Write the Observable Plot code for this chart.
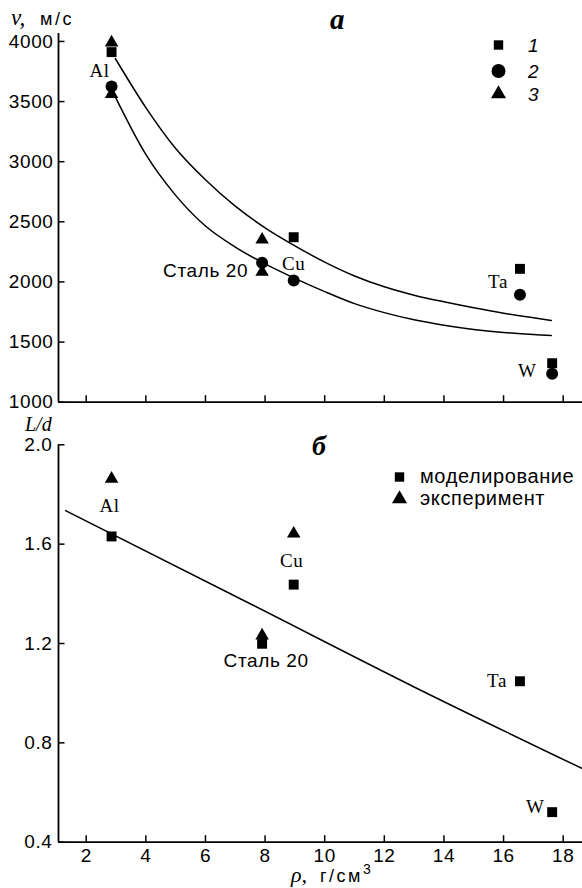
<!DOCTYPE html>
<html><head><meta charset="utf-8">
<script src="https://cdn.jsdelivr.net/npm/d3@7"></script>
<script src="https://cdn.jsdelivr.net/npm/@observablehq/plot@0.6"></script>
<style>
html,body{margin:0;padding:0;background:#fff;overflow:hidden;}
#wrap{position:relative;width:582px;height:888px;overflow:hidden;background:#fff;}
#wrap > svg, #wrap > figure{position:absolute;left:0;margin:0;}
</style></head><body><div id="wrap"></div>
<script>
// ---------- data ----------
const materials = ["Al", "Сталь 20", "Cu", "Ta", "W"];
const density = [2.85, 7.9, 8.96, 16.55, 17.63];

// panel а: velocity v, m/s
const velSeries1 = [3911, null, 2372, 2109, 1324];     // 1 (square)
const velSeries2 = [3626, 2160, 2012, 1893, 1236];     // 2 (circle)
const velSeries3a = [3990, 2351, null, null, null];    // 3 (triangle, upper)
const velSeries3b = [3562, 2083, null, null, null];    // 3 (triangle, lower)
const fitUpperRho = [2.98, 4, 5, 6, 7, 8, 9, 10, 11, 12, 13, 14, 15, 16, 17, 17.6];
const fitUpperV   = [3856, 3450, 3110, 2850, 2630, 2450, 2300, 2165, 2050, 1960, 1890, 1835, 1785, 1740, 1702, 1680];
const fitLowerRho = [2.98, 4, 5, 6, 7, 8, 9, 10, 11, 12, 13, 14, 15, 16, 17, 17.6];
const fitLowerV   = [3537, 3060, 2720, 2465, 2290, 2150, 2030, 1920, 1820, 1745, 1685, 1640, 1605, 1580, 1562, 1555];

// panel б: L/d
const ldModel = [1.631, 1.199, 1.437, 1.048, 0.521];        // моделирование
const ldExperiment = [1.863, 1.232, 1.642, null, null];     // эксперимент
const ldFitRho = [1.31, 7.5, 13.0, 18.65];
const ldFitY   = [1.735, 1.36, 1.025, 0.696];

// ticks
const velTicks = [1000, 1500, 2000, 2500, 3000, 3500, 4000];
const ldTicks = [0.4, 0.8, 1.2, 1.6, 2.0];
const rhoTicks = [2, 4, 6, 8, 10, 12, 14, 16, 18];

// ---------- helpers ----------
const rows = (vals) => materials.map((m, i) => ({m, rho: density[i], v: vals[i]})).filter(d => d.v != null);
const pairs = (xs, ys) => xs.map((x, i) => ({rho: x, v: ys[i]}));

const W = 582, topH = 412, botH = 476;
const ML = 58;
const xDomain = [1.07, 18.648];
const pxPerRho = (W - ML) / (xDomain[1] - xDomain[0]);
const SANS = '"Liberation Sans", Arial, sans-serif';
const SERIF = '"Liberation Serif", "Times New Roman", serif';
const baseStyle = {fontFamily: SANS, fontSize: "19px", color: "#000", background: "transparent", overflow: "visible", letterSpacing: "0.6px"};
const AXW = 1.8, TICK = 6.5;

// ---------- top panel ----------
const vDomain = [1000, 4066];
const topMT = 33, topMB = 10.3;
const pxPerV = (topH - topMT - topMB) / (vDomain[1] - vDomain[0]);
const s1 = rows(velSeries1), s2 = rows(velSeries2), s3 = rows(velSeries3a).concat(rows(velSeries3b));
const labelStyleSerif = {fontFamily: SERIF, fontSize: 19, letterSpacing: "0.5px"};

const topPlot = Plot.plot({
  width: W, height: topH, marginLeft: ML, marginRight: 0, marginTop: topMT, marginBottom: topMB,
  style: baseStyle,
  x: {domain: xDomain, axis: null},
  y: {domain: vDomain, ticks: velTicks, tickSize: 0, tickPadding: 5, label: null, tickFormat: d => String(d)},
  marks: [
    Plot.line(pairs(fitUpperRho, fitUpperV), {x: "rho", y: "v", curve: "monotone-x", strokeWidth: 1.5, stroke: "#000"}),
    Plot.line(pairs(fitLowerRho, fitLowerV), {x: "rho", y: "v", curve: "monotone-x", strokeWidth: 1.5, stroke: "#000"}),
    Plot.ruleX([xDomain[0]], {strokeWidth: AXW, stroke: "#000"}),
    Plot.ruleY([vDomain[0]], {strokeWidth: AXW, stroke: "#000"}),
    Plot.ruleX(rhoTicks, {x: d => d, y1: vDomain[0], y2: vDomain[0] + TICK / pxPerV, strokeWidth: 1.5, stroke: "#000"}),
    Plot.ruleY(velTicks, {y: d => d, x1: xDomain[0], x2: xDomain[0] + TICK / pxPerRho, strokeWidth: 1.5, stroke: "#000"}),
    Plot.dot(s3, {x: "rho", y: "v", symbol: "triangle", r: 5, fill: "#000", stroke: null}),
    Plot.dot(s1, {x: "rho", y: "v", symbol: "square", r: 5.6, fill: "#000", stroke: null}),
    Plot.dot(s2, {x: "rho", y: "v", symbol: "circle", r: 6, fill: "#000", stroke: null}),
    // material labels, anchored to series-2 points
    Plot.text(s2.filter(d => d.m === "Al"), {x: "rho", y: "v", text: "m", dx: -12, dy: -16, ...labelStyleSerif}),
    Plot.text(s2.filter(d => d.m === "Cu"), {x: "rho", y: "v", text: "m", dx: 0, dy: -17, ...labelStyleSerif}),
    Plot.text(s2.filter(d => d.m === "Ta"), {x: "rho", y: "v", text: "m", dx: -22, dy: -13, ...labelStyleSerif}),
    Plot.text(s2.filter(d => d.m === "W"), {x: "rho", y: "v", text: "m", dx: -25, dy: -3, ...labelStyleSerif}),
    Plot.text(s2.filter(d => d.m === "Сталь 20"), {x: "rho", y: "v", text: "m", dx: -14, dy: 8, textAnchor: "end", fontFamily: SANS, fontSize: 19, letterSpacing: "1px"})
  ]
});

// ---------- bottom panel ----------
const ldDomain = [0.4, 2.0];
const botMT = 32.3, botMB = 46.3;
const pxPerLd = (botH - botMT - botMB) / (ldDomain[1] - ldDomain[0]);
const bm = rows(ldModel), be = rows(ldExperiment);

const botPlot = Plot.plot({
  width: W, height: botH, marginLeft: ML, marginRight: 0, marginTop: botMT, marginBottom: botMB,
  style: baseStyle,
  x: {domain: xDomain, ticks: rhoTicks, tickSize: 0, tickPadding: 6, label: null, tickFormat: d => String(d)},
  y: {domain: ldDomain, ticks: ldTicks, tickSize: 0, tickPadding: 6, label: null, tickFormat: d => d.toFixed(1)},
  marks: [
    Plot.line(pairs(ldFitRho, ldFitY), {x: "rho", y: "v", curve: "monotone-x", strokeWidth: 1.5, stroke: "#000"}),
    Plot.ruleX([xDomain[0]], {strokeWidth: AXW, stroke: "#000"}),
    Plot.ruleY([ldDomain[0]], {strokeWidth: AXW, stroke: "#000"}),
    Plot.ruleX(rhoTicks, {x: d => d, y1: ldDomain[0], y2: ldDomain[0] + TICK / pxPerLd, strokeWidth: 1.5, stroke: "#000"}),
    Plot.ruleY(ldTicks, {y: d => d, x1: xDomain[0], x2: xDomain[0] + TICK / pxPerRho, strokeWidth: 1.5, stroke: "#000"}),
    Plot.dot(be, {x: "rho", y: "v", symbol: "triangle", r: 5, fill: "#000", stroke: null}),
    Plot.dot(bm, {x: "rho", y: "v", symbol: "square", r: 5.6, fill: "#000", stroke: null}),
    Plot.text(bm.filter(d => d.m === "Al"), {x: "rho", y: "v", text: "m", dx: -2, dy: -31, ...labelStyleSerif}),
    Plot.text(bm.filter(d => d.m === "Cu"), {x: "rho", y: "v", text: "m", dx: -2, dy: -24, ...labelStyleSerif}),
    Plot.text(bm.filter(d => d.m === "Ta"), {x: "rho", y: "v", text: "m", dx: -23, dy: 0, ...labelStyleSerif}),
    Plot.text(bm.filter(d => d.m === "W"), {x: "rho", y: "v", text: "m", dx: -17, dy: -5, ...labelStyleSerif}),
    Plot.text(bm.filter(d => d.m === "Сталь 20"), {x: "rho", y: "v", text: "m", dx: 4, dy: 17, fontFamily: SANS, fontSize: 19, letterSpacing: "1px"})
  ]
});

const wrap = document.getElementById("wrap");
topPlot.style.top = "0px";
botPlot.style.top = topH + "px";
wrap.appendChild(topPlot);
wrap.appendChild(botPlot);

// ---------- annotation layer: axis titles, panel letters, legends ----------
const ov = d3.select(wrap).append("svg")
  .attr("width", W).attr("height", 888)
  .style("position", "absolute").style("left", "0px").style("top", "0px")
  .style("pointer-events", "none");

function txt(x, y, s, opts = {}) {
  const t = ov.append("text").attr("x", x).attr("y", y).text(s)
    .attr("font-family", opts.family || SANS)
    .attr("font-size", opts.size || 19)
    .attr("fill", "#000");
  if (opts.italic) t.attr("font-style", "italic");
  if (opts.bold) t.attr("font-weight", "bold");
  if (opts.ls) t.attr("letter-spacing", opts.ls);
  if (opts.anchor) t.attr("text-anchor", opts.anchor);
  return t;
}
function sym(type, cx, cy, r) {
  const s = {square: d3.symbolSquare, circle: d3.symbolCircle, triangle: d3.symbolTriangle}[type];
  ov.append("path").attr("transform", `translate(${cx},${cy})`)
    .attr("d", d3.symbol(s, Math.PI * r * r)()).attr("fill", "#000");
}

// top panel
txt(11, 25, "v,", {family: SERIF, italic: true, size: 23});
txt(40, 25, "м/с", {size: 18, ls: "2.5px"});
txt(330, 29, "а", {family: SERIF, italic: true, bold: true, size: 29});
const legendA = ["1", "2", "3"];
const legendAShapes = ["square", "circle", "triangle"];
const legendAY = [45, 71, 94];
legendA.forEach((lab, i) => {
  sym(legendAShapes[i], 498.5, legendAY[i], legendAShapes[i] === "circle" ? 7 : legendAShapes[i] === "square" ? 5.3 : 5.6);
  txt(528, legendAY[i] + 7, lab, {italic: true, size: 19});
});

// bottom panel
txt(25, 431, "L/d", {family: SERIF, italic: true, size: 20});
txt(312, 455, "б", {family: SERIF, italic: true, bold: true, size: 28});
const legendB = ["моделирование", "эксперимент"];
const legendBShapes = ["square", "triangle"];
const legendBY = [477, 499];
legendB.forEach((lab, i) => {
  sym(legendBShapes[i], 399.5, legendBY[i], legendBShapes[i] === "square" ? 5.3 : 5.6);
  txt(420, legendBY[i] + 6, lab, {size: 20, ls: "0.6px"});
});
txt(291, 882, "ρ,", {family: SERIF, italic: true, size: 22});
txt(320, 882, "г/см", {size: 18, ls: "2.5px"});
txt(363, 874, "3", {size: 14});
</script>
</body></html>
